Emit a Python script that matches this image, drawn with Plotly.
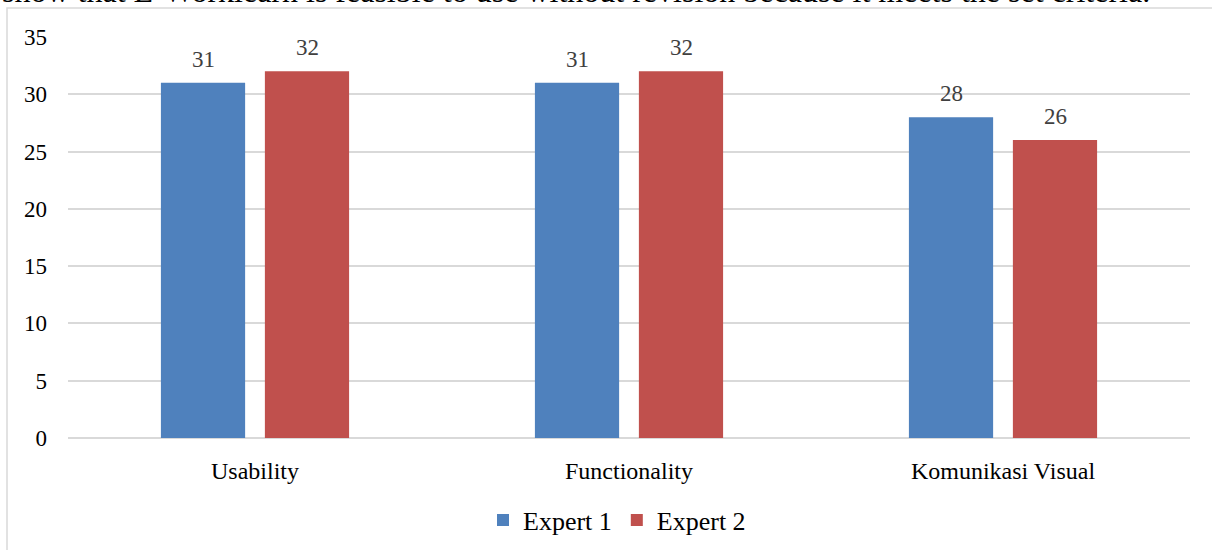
import plotly.graph_objects as go

categories = ["Usability", "Functionality", "Komunikasi Visual"]
expert1 = [31, 31, 28]
expert2 = [32, 32, 26]
series_names = ["Expert 1", "Expert 2"]
y_ticks = [0, 5, 10, 15, 20, 25, 30, 35]
caption = "show that E-Worklearn is feasible to use without revision because it meets the set criteria."

W, H = 1212, 550
ML, MR, MT, MB = 68, 22, 37, 112
PW, PH = W - ML - MR, H - MT - MB

SERIF = "Liberation Serif, Times New Roman, serif"
COLORS = ["#4F81BD", "#C0504D"]

fig = go.Figure()
for name, vals, color in zip(series_names, [expert1, expert2], COLORS):
    fig.add_trace(go.Bar(
        name=name, x=categories, y=vals,
        marker=dict(color=color, line=dict(width=0)),
    ))

# value labels above each bar, offset to the bar's slot within the group
for vals, dx in [(expert1, -52), (expert2, 52)]:
    for cat, v in zip(categories, vals):
        fig.add_annotation(x=cat, y=v, xref="x", yref="y", text=str(v),
                           showarrow=False, xshift=dx, yshift=9,
                           yanchor="bottom",
                           font=dict(family=SERIF, size=23, color="#404040"))

# outer chart-area frame (left and top edges visible)
fig.add_shape(type="rect", xref="paper", yref="paper",
              x0=(7 - ML) / PW, x1=1.2,
              y0=-1.0, y1=(PH + MT - 8) / PH,
              line=dict(color="#d9d9d9", width=1.5), fillcolor="rgba(0,0,0,0)",
              layer="below")

# running text line just above the chart
fig.add_annotation(text=caption, xref="paper", yref="paper",
                   x=(0 - ML) / PW, xanchor="left",
                   y=(PH + MT + 9) / PH, yanchor="middle",
                   showarrow=False,
                   font=dict(family=SERIF, size=32, color="#000000"))

fig.update_layout(
    width=W, height=H,
    margin=dict(l=ML, r=MR, t=MT, b=MB, autoexpand=False),
    paper_bgcolor="white", plot_bgcolor="white",
    barmode="group", bargap=0.444, bargroupgap=0.19,
    font=dict(family=SERIF, size=24, color="#000000"),
    showlegend=True,
    legend=dict(orientation="h", x=(617 - ML) / PW, xanchor="center",
                y=-(520 - 438) / PH, yanchor="middle",
                font=dict(family=SERIF, size=26, color="#000000"),
                itemwidth=30, traceorder="normal"),
    xaxis=dict(showgrid=False, showline=False, ticks="",
               tickfont=dict(family=SERIF, size=24, color="#000000"),
               ticklabelstandoff=16),
    yaxis=dict(range=[0, 35], tickvals=y_ticks, showgrid=True,
               gridcolor="#d9d9d9", gridwidth=1.5, zeroline=True,
               zerolinecolor="#d9d9d9", zerolinewidth=1.5, showline=False,
               ticks="", tickfont=dict(family=SERIF, size=23, color="#000000"),
               ticklabelstandoff=20),
)

fig.write_html("out.html")
